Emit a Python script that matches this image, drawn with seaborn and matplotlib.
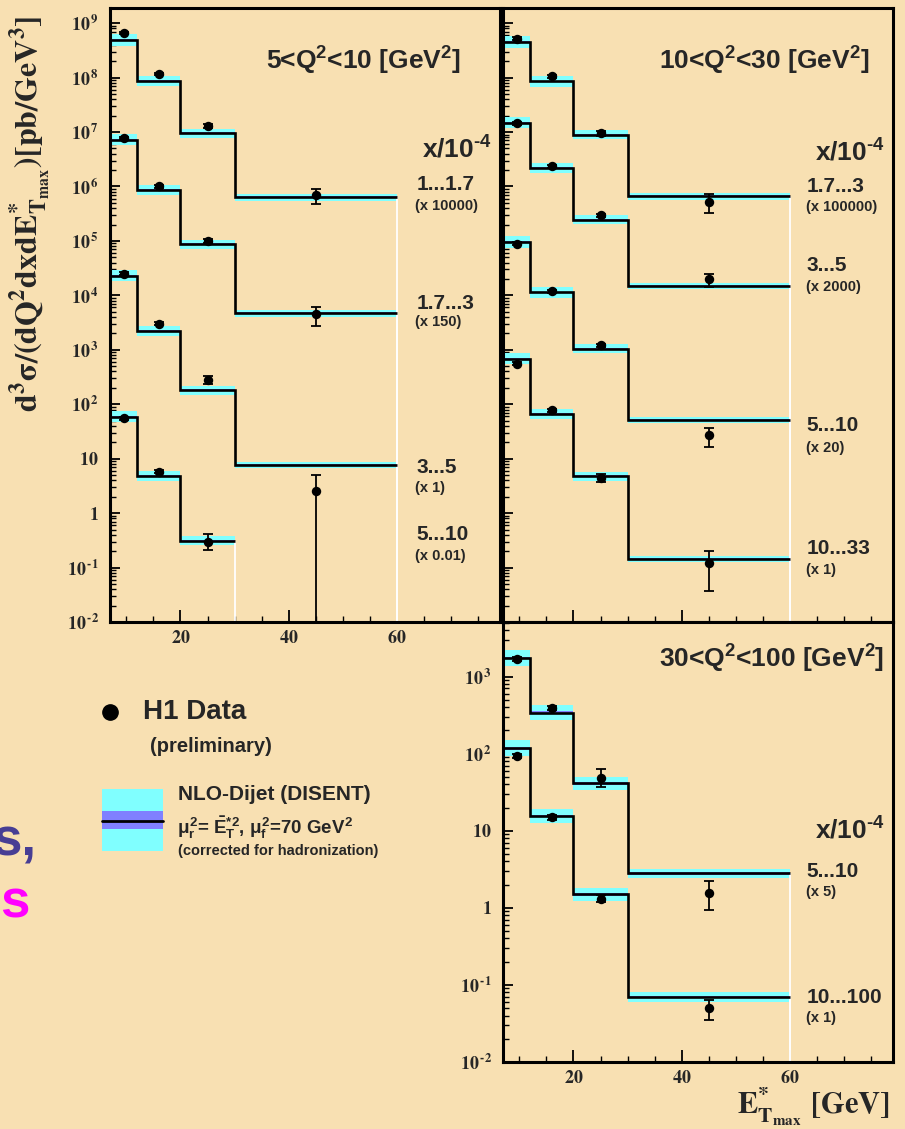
import numpy as np
import pandas as pd
import matplotlib
matplotlib.use("Agg")
import matplotlib.pyplot as plt
import seaborn as sns
from matplotlib.ticker import LogLocator, FixedLocator, FuncFormatter, NullFormatter
from matplotlib.patches import Rectangle
from matplotlib.lines import Line2D

nan = np.nan

# ---------------------------------------------------------------- data
# E*_T,max bin edges [GeV]
et_edges = [7, 12, 20, 30, 60]

# relative half-width of the NLO band (hadronisation + scale) per E_T bin
nlo_unc = [0.27, 0.24, 0.21, 0.15]
# inner band (renormalisation scale choice)
scale_unc = 0.04

# 5 < Q^2 < 10 GeV^2   (cross sections in pb/GeV^3, before scaling)
q1_xbins = ["1...1.7", "1.7...3", "3...5", "5...10"]
q1_scale = [1e4, 150, 1, 0.01]
q1_scale_lbl = ["(x 10000)", "(x 150)", "(x 1)", "(x 0.01)"]
q1_data = [[6.6e4, 1.17e4, 1.30e3, 71.0],
           [5.2e4, 6.67e3, 667.0, 30.0],
           [2.5e4, 3.0e3, 280.0, 2.5],
           [5.5e3, 580.0, 30.0, nan]]
q1_nlo = [[4.9e4, 8.8e3, 950.0, 63.0],
          [4.8e4, 5.67e3, 580.0, 31.3],
          [2.3e4, 2.2e3, 181.0, 7.6],
          [5.9e3, 480.0, 31.0, nan]]
q1_err_up = [[0.06, 0.06, 0.08, 0.29],
             [0.06, 0.06, 0.08, 0.38],
             [0.06, 0.06, 0.17, 1.04],
             [0.06, 0.06, 0.38, nan]]
q1_err_dn = [[0.06, 0.06, 0.08, 0.34],
             [0.06, 0.06, 0.08, 0.40],
             [0.06, 0.06, 0.15, 0.9999],
             [0.06, 0.06, 0.29, nan]]

# 10 < Q^2 < 30 GeV^2
q2_xbins = ["1.7...3", "3...5", "5...10", "10...33"]
q2_scale = [1e5, 2000, 20, 1]
q2_scale_lbl = ["(x 100000)", "(x 2000)", "(x 20)", "(x 1)"]
q2_data = [[5200.0, 1050.0, 96.0, 5.1],
           [7250.0, 1175.0, 147.5, 10.0],
           [4450.0, 600.0, 60.0, 1.35],
           [560.0, 78.0, 4.45, 0.12]]
q2_nlo = [[4500.0, 850.0, 89.0, 6.6],
          [7400.0, 1100.0, 123.5, 7.4],
          [4750.0, 565.0, 52.5, 2.55],
          [690.0, 66.0, 4.8, 0.143]]
q2_err_up = [[0.06, 0.06, 0.10, 0.43],
             [0.06, 0.06, 0.07, 0.24],
             [0.06, 0.06, 0.07, 0.36],
             [0.06, 0.06, 0.18, 0.70]]
q2_err_dn = [[0.06, 0.06, 0.10, 0.37],
             [0.06, 0.06, 0.07, 0.30],
             [0.06, 0.06, 0.07, 0.39],
             [0.06, 0.06, 0.17, 0.69]]

# 30 < Q^2 < 100 GeV^2
q3_xbins = ["5...10", "10...100"]
q3_scale = [5, 1]
q3_scale_lbl = ["(x 5)", "(x 1)"]
q3_data = [[336.0, 78.0, 9.8, 0.314],
           [94.0, 14.9, 1.32, 0.050]]
q3_nlo = [[348.0, 68.0, 8.2, 0.56],
          [117.0, 15.5, 1.49, 0.070]]
q3_err_up = [[0.06, 0.06, 0.29, 0.42],
             [0.06, 0.08, 0.10, 0.29]]
q3_err_dn = [[0.06, 0.06, 0.24, 0.41],
             [0.06, 0.08, 0.10, 0.29]]

# ---------------------------------------------------------------- style
BG = "#F8E0B2"
CYAN = "#80FFFF"
VIOLET = "#8080FF"

sns.set_theme(style="ticks", rc={"figure.facecolor": BG, "axes.facecolor": BG,
                                 "savefig.facecolor": BG})
plt.rcParams["font.family"] = ["Liberation Sans", "DejaVu Sans"]
plt.rcParams["font.weight"] = "bold"
plt.rcParams["mathtext.fontset"] = "stix"
plt.rcParams["mathtext.rm"] = "Liberation Sans:bold"
plt.rcParams["mathtext.it"] = "Liberation Sans:bold"
plt.rcParams["mathtext.bf"] = "Liberation Sans:bold"
plt.rcParams["mathtext.sf"] = "Liberation Sans:bold"

W, H = 905, 1129
fig = plt.figure(figsize=(W / 100, H / 100), dpi=100)


def px_axes(x0, y0, x1, y1):
    return fig.add_axes([x0 / W, 1 - y1 / H, (x1 - x0) / W, (y1 - y0) / H])


def ftext(x, y, s, **kw):
    return fig.text(x / W, 1 - y / H, s, **kw)


def log_label(v, pos):
    e = int(round(np.log10(v)))
    if e == 0:
        return r"$\mathbf{1}$"
    if e == 1:
        return r"$\mathbf{10}$"
    if e < 0:
        return r"$\mathbf{10^{\,\text{-}%d}}$" % (-e)
    return r"$\mathbf{10^{\,%d}}$" % e


def style_axes(ax, ylim, xlabels=True, ylabels=True):
    ax.set_yscale("log")
    ax.set_xlim(7, 79)
    ax.set_ylim(*ylim)
    for sp in ax.spines.values():
        sp.set_linewidth(2.2)
        sp.set_color("black")
        sp.set_visible(True)
    ax.xaxis.set_major_locator(FixedLocator([20, 40, 60]))
    ax.xaxis.set_minor_locator(FixedLocator([10, 15, 25, 30, 35, 45, 50, 55, 65, 70, 75]))
    ax.yaxis.set_major_locator(LogLocator(base=10, numticks=100))
    ax.yaxis.set_minor_locator(LogLocator(base=10, subs=np.arange(2, 10), numticks=100))
    ax.yaxis.set_minor_formatter(NullFormatter())
    ax.tick_params(which="both", direction="in", top=False, right=False, color="black")
    ax.tick_params(which="major", axis="x", length=8.5, width=1.3, pad=6, labelsize=13)
    ax.tick_params(which="minor", axis="x", length=4.3, width=1.0)
    ax.tick_params(which="major", axis="y", length=7.5, width=1.3, pad=8, labelsize=13)
    ax.tick_params(which="minor", axis="y", length=4.0, width=1.0)
    if xlabels:
        ax.xaxis.set_major_formatter(FuncFormatter(lambda v, p: r"$\mathbf{%d}$" % v))
    else:
        ax.set_xticklabels([])
    if ylabels:
        ax.yaxis.set_major_formatter(FuncFormatter(log_label))
    else:
        ax.set_yticklabels([])
    ax.set_xlabel("")
    ax.set_ylabel("")


def draw_panel(ax, data, nlo, err_up, err_dn, scale):
    edges = np.array(et_edges, dtype=float)
    centres = 0.5 * (edges[:-1] + edges[1:])
    unc = np.array(nlo_unc)
    rows = []
    for i in range(len(data)):
        t = np.array(nlo[i], dtype=float) * scale[i]
        n = int((~np.isnan(t)).sum())
        tt, ee, uu = t[:n], edges[:n + 1], unc[:n]
        ax.stairs(tt * (1 + uu), ee, baseline=tt / (1 + uu), fill=True,
                  color=CYAN, lw=0, zorder=1)
        ax.stairs(tt * (1 + scale_unc), ee, baseline=tt / (1 + scale_unc), fill=True,
                  color=VIOLET, lw=0, zorder=2)
        ax.stairs(tt, ee, baseline=None, color="black", lw=1.9, zorder=3)
        ax.vlines(ee[-1], 1e-6, tt[-1], color="white", lw=1.3, zorder=2.5)

        d = np.array(data[i], dtype=float) * scale[i]
        up = np.array(err_up[i], dtype=float)
        dn = np.array(err_dn[i], dtype=float)
        for k in range(len(d)):
            if not np.isnan(d[k]):
                rows.append({"et": centres[k], "xs": d[k],
                             "lo": d[k] * dn[k], "hi": d[k] * up[k]})
    df = pd.DataFrame(rows)
    ax.errorbar(df["et"], df["xs"], yerr=[df["lo"], df["hi"]], fmt="none",
                ecolor="black", elinewidth=1.3, capsize=3.3, capthick=1.3, zorder=4)
    sns.scatterplot(data=df, x="et", y="xs", ax=ax, color="black", s=46,
                    edgecolor="black", linewidth=0, zorder=5, legend=False)


def series_labels(ax, names, scale_lbls, main_y, sub_y, x=0.785):
    for name, lbl, y0, y1 in zip(names, scale_lbls, main_y, sub_y):
        ax.text(x, y0, name, transform=ax.transAxes, ha="left", va="center",
                fontsize=15, fontweight="bold")
        ax.text(x - 0.002, y1, lbl, transform=ax.transAxes, ha="left", va="center",
                fontsize=10.5, fontweight="bold")


def panel_title(ax, text, y):
    ax.text(0.40, y, text, transform=ax.transAxes, ha="left", va="center",
            fontsize=19, fontweight="bold", math_fontfamily="custom")


def xtitle(ax, y):
    ax.text(0.80, y, r"x/10$^{\text{-}4}$", transform=ax.transAxes, ha="left", va="center",
            fontsize=19, fontweight="bold", math_fontfamily="custom")


# ---------------------------------------------------------------- panels
ax1 = px_axes(110, 8, 500, 622)
ax2 = px_axes(503, 8, 893, 622)
ax3 = px_axes(503, 622, 893, 1062)

draw_panel(ax1, q1_data, q1_nlo, q1_err_up, q1_err_dn, q1_scale)
draw_panel(ax2, q2_data, q2_nlo, q2_err_up, q2_err_dn, q2_scale)
draw_panel(ax3, q3_data, q3_nlo, q3_err_up, q3_err_dn, q3_scale)

style_axes(ax1, (1e-2, 1.9e9), xlabels=True, ylabels=True)
style_axes(ax2, (1e-2, 1.9e9), xlabels=False, ylabels=False)
style_axes(ax3, (1e-2, 5.1e3), xlabels=True, ylabels=True)

panel_title(ax1, r"5<Q$^{2}$<10 [GeV$^{2}$]", 0.914)
panel_title(ax2, r"10<Q$^{2}$<30 [GeV$^{2}$]", 0.914)
panel_title(ax3, r"30<Q$^{2}$<100 [GeV$^{2}$]", 0.916)

xtitle(ax1, 0.769)
xtitle(ax2, 0.765)
xtitle(ax3, 0.527)

series_labels(ax1, q1_xbins, q1_scale_lbl,
              [0.712, 0.518, 0.252, 0.142], [0.678, 0.489, 0.218, 0.107])
series_labels(ax2, q2_xbins, q2_scale_lbl,
              [0.710, 0.580, 0.320, 0.120], [0.676, 0.545, 0.284, 0.084], x=0.779)
series_labels(ax3, q3_xbins, q3_scale_lbl,
              [0.434, 0.146], [0.386, 0.100], x=0.779)

# axis titles
ftext(30, 214,
      r"$\mathbf{d^{3}\sigma/(dQ^{2}dxdE^{*}_{T_{max}})[pb/GeV^{3}]}$",
      rotation=90, ha="center", va="center", fontsize=23)
ftext(890, 1107, r"$\mathbf{E^{*}_{T_{max}}\ [GeV]}$",
      ha="right", va="center", fontsize=22)

# ---------------------------------------------------------------- legend
fig.add_artist(Line2D([110 / W], [1 - 712 / H], marker="o", ms=11, color="black",
                      lw=0, transform=fig.transFigure))
ftext(143, 712, "H1 Data", ha="left", va="center", fontsize=20, fontweight="bold")
ftext(150, 747, "(preliminary)", ha="left", va="center", fontsize=14.5, fontweight="bold")

fig.add_artist(Rectangle((102 / W, 1 - 851 / H), 61 / W, 62 / H,
                         transform=fig.transFigure, color=CYAN, lw=0))
fig.add_artist(Rectangle((102 / W, 1 - 829 / H), 61 / W, 18 / H,
                         transform=fig.transFigure, color=VIOLET, lw=0))
fig.add_artist(Line2D([102 / W, 163 / W], [1 - 821 / H, 1 - 821 / H], color="black",
                      lw=2.0, transform=fig.transFigure))
ftext(178, 795, "NLO-Dijet (DISENT)", ha="left", va="center", fontsize=15, fontweight="bold")
ftext(177, 828, r"$\mu^{2}_{r}$= $\bar{E}^{*2}_{T}$, $\mu^{2}_{f}$=70 GeV$^{2}$",
      ha="left", va="center", fontsize=13.5, fontweight="bold", math_fontfamily="custom")
ftext(178, 851, "(corrected for hadronization)", ha="left", va="center",
      fontsize=10.5, fontweight="bold")

# slide text running off the left edge
ftext(-8, 842, "s,", ha="left", va="center", fontsize=38, fontweight="bold", color="#473E94")
ftext(0, 903, "s", ha="left", va="center", fontsize=38, fontweight="bold", color="#FF00FF")

fig.savefig("out.png", dpi=100, facecolor=BG)
